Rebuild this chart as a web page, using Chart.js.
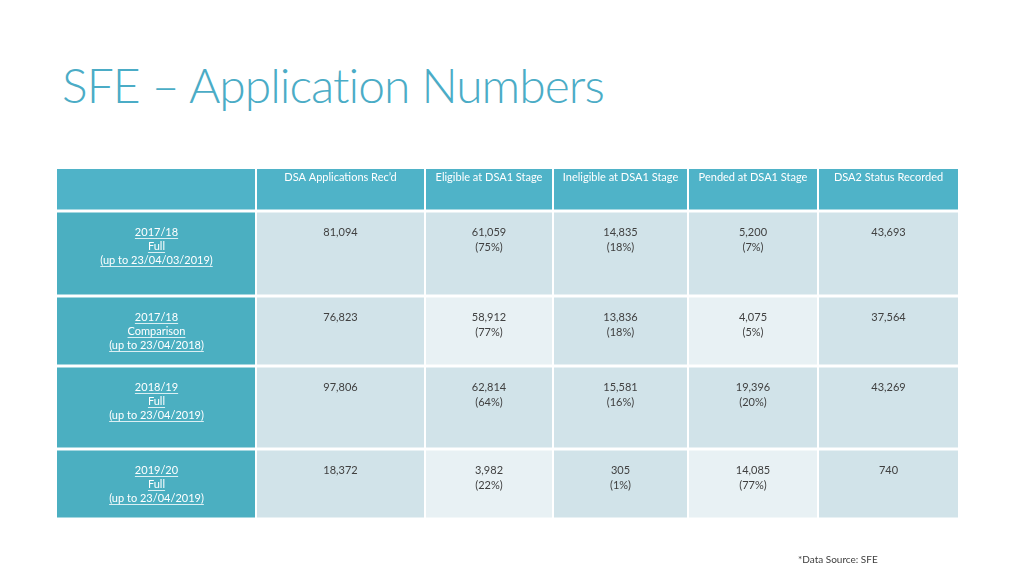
<!DOCTYPE html>
<html>
<head>
<meta charset="utf-8">
<script src="https://cdn.jsdelivr.net/npm/chart.js@4.4.1/dist/chart.umd.min.js"></script>
<style>
  body { margin: 0; background: #fff; font-family: Lato, "Open Sans", sans-serif; }
  #wrap { position: relative; width: 1024px; height: 576px; }
  #title { position: absolute; left: 62px; top: 56px; font-size: 48px; color: #4BACC6; letter-spacing: -1px; font-weight: 300; }
  #source { position: absolute; left: 798px; top: 553px; font-size: 10px; color: #404040; }
  canvas { position: absolute; left: 0; top: 0; }
</style>
</head>
<body>
<div id="wrap">
  <div id="title">SFE – Application Numbers</div>
  <canvas id="tableChart" width="1024" height="576"></canvas>
  <div id="source">*Data Source: SFE</div>
</div>
<script>
//Table data
var headers = ['DSA Applications Rec\u2019d', 'Eligible at DSA1 Stage', 'Ineligible at DSA1 Stage', 'Pended at DSA1 Stage', 'DSA2 Status Recorded'];
var rowLabels = [
  ['2017/18', 'Full', '(up to 23/04/03/2019)'],
  ['2017/18', 'Comparison', '(up to 23/04/2018)'],
  ['2018/19', 'Full', '(up to 23/04/2019)'],
  ['2019/20', 'Full', '(up to 23/04/2019)']
];
var received = ['81,094', '76,823', '97,806', '18,372'];
var eligible = ['61,059', '58,912', '62,814', '3,982'];
var eligiblePct = ['(75%)', '(77%)', '(64%)', '(22%)'];
var ineligible = ['14,835', '13,836', '15,581', '305'];
var ineligiblePct = ['(18%)', '(18%)', '(16%)', '(1%)'];
var pended = ['5,200', '4,075', '19,396', '14,085'];
var pendedPct = ['(7%)', '(5%)', '(20%)', '(77%)'];
var dsa2 = ['43,693', '37,564', '43,269', '740'];

//layout of grid (table units)
var colEdges = [0, 199, 368, 496, 631, 761, 902];
var rowEdges = [0, 42, 127, 197, 280, 350];

var tablePlugin = {
  id: 'tablePlugin',
  afterDraw: function(chart) {
    var c = chart.ctx, xs = chart.scales.x, ys = chart.scales.y;
    function X(v) { return xs.getPixelForValue(v); }
    function Y(v) { return ys.getPixelForValue(v); }
    var cells = [];
    for (var r = 0; r < rowEdges.length - 1; r++) {
      for (var k = 0; k < colEdges.length - 1; k++) {
        var x0 = X(colEdges[k]), x1 = X(colEdges[k + 1]);
        var y0 = Y(rowEdges[r]), y1 = Y(rowEdges[r + 1]);
        var fill;
        if (r == 0) fill = '#4FB3C8';
        else if (k == 0) fill = '#4BAFC1';
        else if ((r == 2 || r == 4) && (k == 2 || k == 4)) fill = '#E8F1F4';
        else fill = '#D1E3E9';
        c.fillStyle = fill;
        c.fillRect(x0 + (k > 0 ? 1 : 0), y0 + (r > 0 ? 1.5 : 0), x1 - x0 - (k > 0 ? 1 : 0) - 1, y1 - y0 - (r > 0 ? 1.5 : 0) - 1.5);
        cells.push({ r: r, k: k, cx: (x0 + x1) / 2, top: y0 });
      }
    }
    c.textAlign = 'center';
    c.textBaseline = 'middle';
    c.font = '11px Lato, "Open Sans", sans-serif';
    cells.forEach(function(cell) {
      var lines = [];
      var r = cell.r - 1;
      if (cell.r == 0) {
        if (cell.k > 0) lines = [headers[cell.k - 1]];
        c.fillStyle = '#ffffff';
        lines.forEach(function(t, i) { c.fillText(t, cell.cx, cell.top + 8 + i * 14); });
        return;
      }
      if (cell.k == 0) {
        c.fillStyle = '#ffffff';
        rowLabels[r].forEach(function(t, i) {
          var y = cell.top + 21 + i * 14;
          c.fillText(t, cell.cx, y);
          var w = c.measureText(t).width;
          c.fillRect(cell.cx - w / 2, y + 6, w, 0.8);
        });
        return;
      }
      if (cell.k == 1) lines = [received[r]];
      if (cell.k == 2) lines = [eligible[r], eligiblePct[r]];
      if (cell.k == 3) lines = [ineligible[r], ineligiblePct[r]];
      if (cell.k == 4) lines = [pended[r], pendedPct[r]];
      if (cell.k == 5) lines = [dsa2[r]];
      c.fillStyle = '#404040';
      lines.forEach(function(t, i) { c.fillText(t, cell.cx, cell.top + 21 + i * 15); });
    });
  }
};

new Chart(document.getElementById('tableChart'), {
  type: 'scatter',
  data: { datasets: [{ data: [] }] },
  options: {
    responsive: false,
    animation: false,
    layout: { padding: { left: 57, top: 169, right: 65, bottom: 57 } },
    plugins: { legend: { display: false }, tooltip: { enabled: false } },
    scales: {
      x: { type: 'linear', min: 0, max: 902, display: false },
      y: { type: 'linear', min: 0, max: 350, reverse: true, display: false }
    }
  },
  plugins: [tablePlugin]
});
</script>
</body>
</html>
